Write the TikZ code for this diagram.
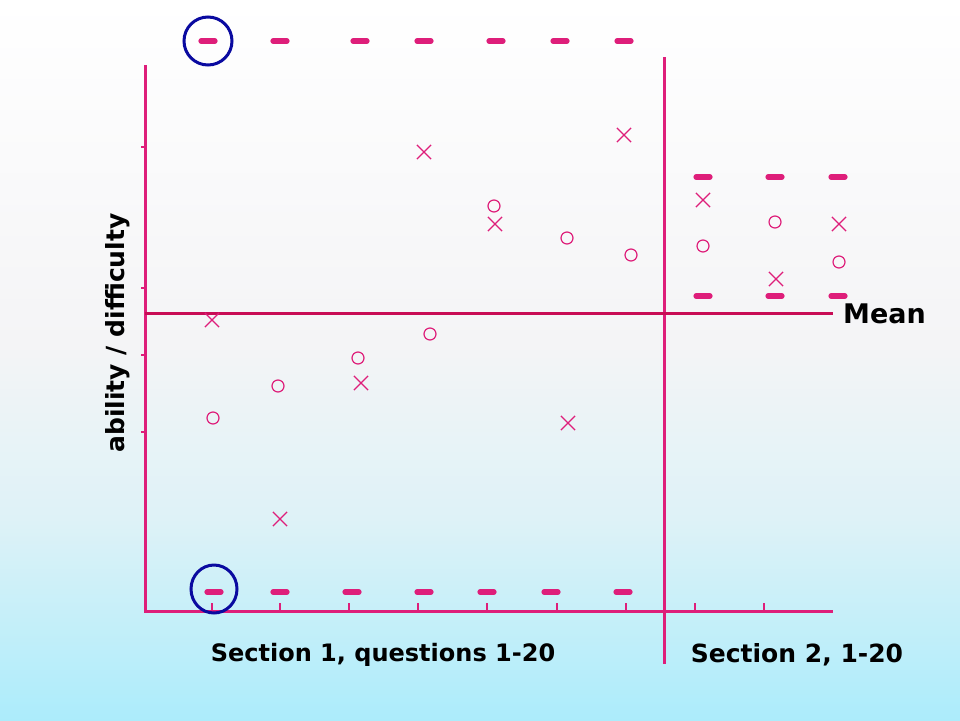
\documentclass[tikz,border=0pt]{standalone}
\usepackage{fontspec}
\setmainfont{DejaVu Sans}
\usetikzlibrary{shapes.geometric,shapes.misc}
\definecolor{pinkline}{RGB}{222,30,122}
\definecolor{meanline}{RGB}{200,12,85}
\definecolor{ringblue}{RGB}{10,10,160}
\definecolor{bgtop}{RGB}{255,255,255}
\definecolor{bgmid}{RGB}{244,244,246}
\definecolor{bglow}{RGB}{222,242,247}
\definecolor{bgbot}{RGB}{172,236,251}
% 25bp = bottom of picture, 75bp = top of picture
\pgfdeclareverticalshading{bgshade}{100bp}{
  color(0bp)=(bgbot); color(25bp)=(bgbot); color(39bp)=(bglow);
  color(51bp)=(bgmid); color(75bp)=(bgtop); color(100bp)=(bgtop)}
\tikzset{
  axisline/.style={pinkline, line width=3pt},
  dashmark/.style={pinkline, line width=5.2pt, line cap=round},
  tickmark/.style={pinkline, line width=1.4pt},
  xmark/.style={cross out, draw=pinkline, line width=1.2pt, minimum size=13pt, inner sep=0pt},
  omark/.style={circle, draw=pinkline, line width=1.2pt, minimum size=12pt, inner sep=0pt},
  ring/.style={ellipse, draw=ringblue, line width=3pt, inner sep=0pt},
  txtlabel/.style={font=\fontsize{24}{28}\selectfont\bfseries, text=black}
}
\begin{document}
\begin{tikzpicture}[x=1pt,y=-1pt]
\useasboundingbox (0,0) rectangle (960,720);
\shade[shading=bgshade] (0,0) rectangle (960,720);

% axes
\coordinate (ytop) at (145,65);
\coordinate (origin) at (145,611);
\coordinate (xend) at (833,611);
\coordinate (sepTop) at (664,57);
\coordinate (sepBot) at (664,664);
\coordinate (meanL) at (145,313);
\coordinate (meanR) at (833,313);
\draw[axisline] (ytop) -- (origin) -- (xend);
\draw[axisline] (sepTop) -- (sepBot);
\draw[meanline, line width=3pt] (meanL) -- (meanR);

% y ticks
\foreach \yy in {147,288,355,432} \draw[tickmark] (141,\yy) -- (145,\yy);
% x ticks
\foreach \xx in {212,280,349,418,487,557,626,695,764} \draw[tickmark] (\xx,611) -- (\xx,603);

% top dashes
\foreach \xx in {208,280,360,424,496,560,624} \draw[dashmark] (\xx-7,41) -- (\xx+7,41);
% bottom dashes
\foreach \xx in {214,280,352,424,487,551,623} \draw[dashmark] (\xx-7,592) -- (\xx+7,592);
% section 2 dashes
\foreach \xx in {703,775,838} {
  \draw[dashmark] (\xx-7,177) -- (\xx+7,177);
  \draw[dashmark] (\xx-7,296) -- (\xx+7,296);
}

% rings
\node[ring, minimum width=48pt, minimum height=48pt] (ringTop) at (208,41) {};
\node[ring, minimum width=46pt, minimum height=48pt] (ringBot) at (214,589) {};

% crosses
\node[xmark] (x1) at (212,320) {};
\node[xmark] (x2) at (280,519) {};
\node[xmark] (x3) at (361,383) {};
\node[xmark] (x4) at (424,152) {};
\node[xmark] (x5) at (495,224) {};
\node[xmark] (x6) at (568,423) {};
\node[xmark] (x7) at (624,135) {};
\node[xmark] (x8) at (703,200) {};
\node[xmark] (x9) at (776,279) {};
\node[xmark] (x10) at (839,224) {};

% circles
\node[omark] (o1) at (213,418) {};
\node[omark] (o2) at (278,386) {};
\node[omark] (o3) at (358,358) {};
\node[omark] (o4) at (430,334) {};
\node[omark] (o5) at (494,206) {};
\node[omark] (o6) at (567,238) {};
\node[omark] (o7) at (631,255) {};
\node[omark] (o8) at (703,246) {};
\node[omark] (o9) at (775,222) {};
\node[omark] (o10) at (839,262) {};

% labels
\node[txtlabel] (s1) at (383,655) {Section 1, questions 1-20};
\node[txtlabel, font=\fontsize{25}{28}\selectfont\bfseries] (s2) at (797,655) {Section 2, 1-20};
\node[txtlabel, font=\fontsize{25}{28}\selectfont\bfseries, rotate=90] (yl) at (118,333) {ability / difficulty};
\node[font=\fontsize{27}{30}\selectfont\bfseries, anchor=west, inner sep=0pt] (mean) at (843,314) {Mean};
\end{tikzpicture}
\end{document}
